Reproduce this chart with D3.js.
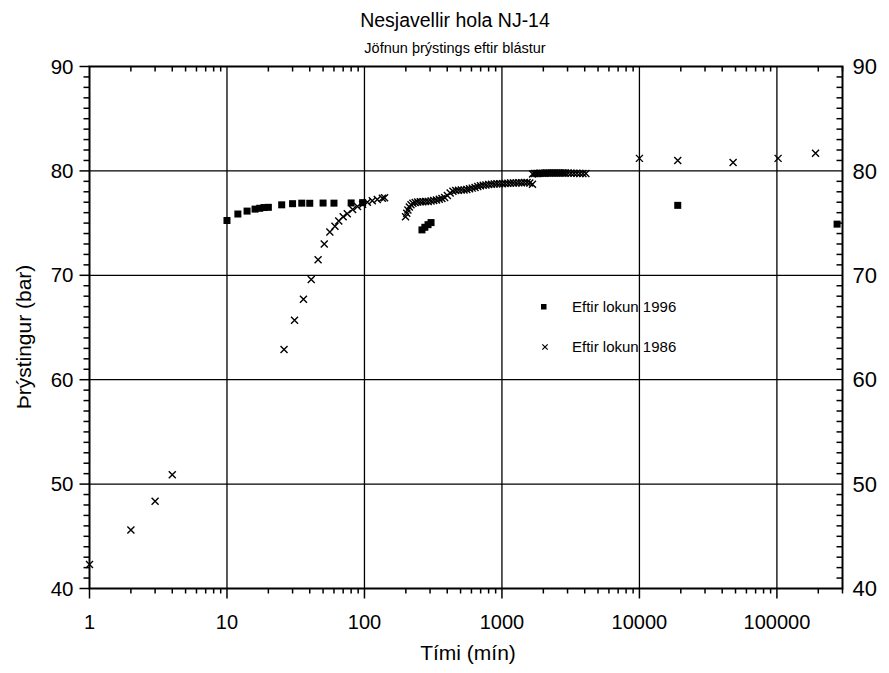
<!DOCTYPE html>
<html>
<head>
<meta charset="utf-8">
<script src="https://cdn.jsdelivr.net/npm/d3@7"></script>
<style>
  body { margin: 0; background: #fff; }
  svg { display: block; }
  text { font-family: "Liberation Sans", Arial, Helvetica, sans-serif; fill: #000; }
</style>
</head>
<body>
<svg id="chart"></svg>
<script>
const width = 889, height = 673;

// Eftir lokun 1996 (squares): time in minutes, pressure in bar
const t1996 = [10, 12, 14, 16, 17.3, 18.6, 20, 25, 30, 35, 40, 50, 60, 80, 97,
  262, 275, 290, 305, 19000, 274000];
const p1996 = [75.25, 75.87, 76.15, 76.34, 76.42, 76.49, 76.51, 76.75, 76.86, 76.91, 76.9, 76.92, 76.91, 76.93, 76.96,
  74.35, 74.6, 74.85, 75.05, 76.7, 74.9];

// Eftir lokun 1986 (crosses)
const t1986 = [1, 2, 3, 4,
  26, 31, 36, 41, 46, 51, 56, 61, 65, 70, 75, 82, 89, 97, 105, 114, 124, 135, 140,
  199, 203, 207, 212, 218, 225, 234, 244, 255, 266, 278, 291, 305, 319, 334, 350, 366, 383, 401, 420,
  440, 461, 483, 506, 530, 555, 581, 608, 637, 667, 698, 731, 765, 801, 839, 878, 919, 962, 1007,
  1054, 1104, 1156, 1210, 1267, 1327, 1389, 1454, 1522, 1594, 1668,
  1670, 1720, 1770, 1820, 1870, 1920, 1980, 2040, 2100, 2160, 2220, 2290, 2360, 2430, 2500, 2580,
  2660, 2740, 2820, 2900, 3030, 3180, 3340, 3510, 3690, 3880, 4080,
  10000, 19000, 48000, 102000, 191000];
const p1986 = [42.3, 45.6, 48.35, 50.9,
  62.9, 65.7, 67.7, 69.6, 71.5, 73.0, 74.15, 74.7, 75.2, 75.6, 75.9, 76.3, 76.6, 76.8, 77.0, 77.15, 77.27, 77.37, 77.42,
  75.6, 75.95, 76.25, 76.55, 76.75, 76.9, 76.98, 77.02, 77.04, 77.05, 77.06, 77.08, 77.12, 77.17, 77.22, 77.28, 77.35, 77.45, 77.65, 77.88,
  78.05, 78.12, 78.14, 78.16, 78.18, 78.22, 78.28, 78.35, 78.42, 78.5, 78.58, 78.63, 78.66, 78.69, 78.72, 78.75, 78.76, 78.77, 78.78,
  78.8, 78.81, 78.83, 78.84, 78.85, 78.86, 78.87, 78.88, 78.89, 78.85, 78.72,
  79.7, 79.74, 79.76, 79.76, 79.78, 79.78, 79.78, 79.78, 79.8, 79.8, 79.8, 79.8, 79.8, 79.8, 79.8, 79.8,
  79.8, 79.8, 79.8, 79.8, 79.8, 79.78, 79.78, 79.78, 79.76, 79.76, 79.74,
  81.2, 81.0, 80.8, 81.2, 81.7];

const xTickValues = [1, 10, 100, 1000, 10000, 100000];
const yTickValues = [40, 50, 60, 70, 80, 90];
const xGrid = [10, 100, 1000, 10000, 100000];
const yGrid = [50, 60, 70, 80];

const legendItems = ['Eftir lokun 1996', 'Eftir lokun 1986'];

const margin = {top: 66.5, right: 46.5, bottom: 84.5, left: 89.5};

const styles = {
  frame: {stroke: '#000', strokeWidth: 2, fill: 'none'},
  grid: {stroke: '#000', strokeWidth: 1.3},
  tick: {stroke: '#000', strokeWidth: 1.5},
  cross: {stroke: '#000', strokeWidth: 1.4, fill: 'none'},
};

const svg = d3.select('#chart').attr('width', width).attr('height', height);

const x = d3.scaleLog().domain([1, 300000]).range([margin.left, width - margin.right]);
const y = d3.scaleLinear().domain([40, 90]).range([height - margin.bottom, margin.top]);

const x0 = x.range()[0], x1 = x.range()[1];
const y0 = y.range()[0], y1 = y.range()[1];

// grid lines
svg.append('g').selectAll('line.vgrid')
  .data(xGrid).join('line')
  .attr('x1', d => x(d)).attr('x2', d => x(d))
  .attr('y1', y1).attr('y2', y0)
  .attr('stroke', styles.grid.stroke).attr('stroke-width', styles.grid.strokeWidth);

svg.append('g').selectAll('line.hgrid')
  .data(yGrid).join('line')
  .attr('x1', x0).attr('x2', x1)
  .attr('y1', d => y(d)).attr('y2', d => y(d))
  .attr('stroke', styles.grid.stroke).attr('stroke-width', styles.grid.strokeWidth);

// frame
svg.append('rect')
  .attr('x', x0).attr('y', y1)
  .attr('width', x1 - x0).attr('height', y0 - y1)
  .attr('fill', 'none').attr('stroke', styles.frame.stroke).attr('stroke-width', styles.frame.strokeWidth);

// ticks: left/bottom point outwards, top/right point inwards
const isMajorX = d => xTickValues.includes(d);
const xMinor = x.ticks().filter(d => !isMajorX(d) && d <= 300000);
const yMinor = y.ticks(50).filter(d => d % 10 !== 0);

const ticks = svg.append('g')
  .attr('stroke', styles.tick.stroke).attr('stroke-width', styles.tick.strokeWidth);

ticks.selectAll('line.bmin').data(xMinor).join('line')
  .attr('x1', d => x(d)).attr('x2', d => x(d)).attr('y1', y0).attr('y2', y0 + 5);
ticks.selectAll('line.bmaj').data(xTickValues).join('line')
  .attr('x1', d => x(d)).attr('x2', d => x(d)).attr('y1', y0).attr('y2', y0 + 10);
ticks.selectAll('line.tmin').data(xMinor).join('line')
  .attr('x1', d => x(d)).attr('x2', d => x(d)).attr('y1', y1).attr('y2', y1 + 5);
ticks.selectAll('line.lmin').data(yMinor).join('line')
  .attr('x1', x0 - 6).attr('x2', x0).attr('y1', d => y(d)).attr('y2', d => y(d));
ticks.selectAll('line.lmaj').data(yTickValues).join('line')
  .attr('x1', x0 - 10).attr('x2', x0).attr('y1', d => y(d)).attr('y2', d => y(d));
ticks.selectAll('line.rmin').data(yMinor).join('line')
  .attr('x1', x1 - 6).attr('x2', x1).attr('y1', d => y(d)).attr('y2', d => y(d));

// tick labels
svg.append('g').selectAll('text')
  .data(xTickValues).join('text')
  .attr('x', d => x(d)).attr('y', y0 + 40)
  .attr('text-anchor', 'middle').attr('font-size', 20)
  .text(d => d);

svg.append('g').selectAll('text')
  .data(yTickValues).join('text')
  .attr('x', x0 - 16).attr('y', d => y(d)).attr('dy', '0.35em')
  .attr('text-anchor', 'end').attr('font-size', 20.5)
  .text(d => d);

svg.append('g').selectAll('text')
  .data(yTickValues).join('text')
  .attr('x', x1 + 10).attr('y', d => y(d)).attr('dy', '0.35em')
  .attr('text-anchor', 'start').attr('font-size', 22)
  .text(d => d);

// titles
svg.append('text')
  .attr('x', 455).attr('y', 27).attr('text-anchor', 'middle').attr('font-size', 19.5)
  .text('Nesjavellir hola NJ-14');
svg.append('text')
  .attr('x', 455).attr('y', 53).attr('text-anchor', 'middle').attr('font-size', 14.5)
  .text('Jöfnun þrýstings eftir blástur');

svg.append('text')
  .attr('x', 468).attr('y', 660).attr('text-anchor', 'middle').attr('font-size', 21)
  .text('Tími (mín)');
svg.append('text')
  .attr('transform', 'translate(31,337) rotate(-90)')
  .attr('text-anchor', 'middle').attr('font-size', 21)
  .text('Þrýstingur (bar)');

// markers
const crossPath = s => `M${-s},${-s}L${s},${s}M${-s},${s}L${s},${-s}`;
const sq = 7;

const data1996 = t1996.map((t, i) => ({t, p: p1996[i]}));
const data1986 = t1986.map((t, i) => ({t, p: p1986[i]}));

svg.append('g').selectAll('path')
  .data(data1986).join('path')
  .attr('transform', d => `translate(${x(d.t)},${y(d.p)})`)
  .attr('d', crossPath(3.5))
  .attr('stroke', styles.cross.stroke).attr('stroke-width', styles.cross.strokeWidth).attr('fill', 'none');

svg.append('g').selectAll('rect')
  .data(data1996).join('rect')
  .attr('x', d => x(d.t) - sq / 2).attr('y', d => y(d.p) - sq / 2)
  .attr('width', sq).attr('height', sq)
  .attr('fill', '#000');

// legend
const legend = svg.append('g');
legend.append('rect')
  .attr('x', 541).attr('y', 304).attr('width', 5.5).attr('height', 5.5).attr('fill', '#000');
legend.append('path')
  .attr('transform', 'translate(545,347)')
  .attr('d', crossPath(2.7))
  .attr('stroke', '#000').attr('stroke-width', 1.2);
legend.selectAll('text')
  .data(legendItems).join('text')
  .attr('x', 572).attr('y', (d, i) => 312 + i * 40)
  .attr('font-size', 15)
  .text(d => d);
</script>
</body>
</html>
